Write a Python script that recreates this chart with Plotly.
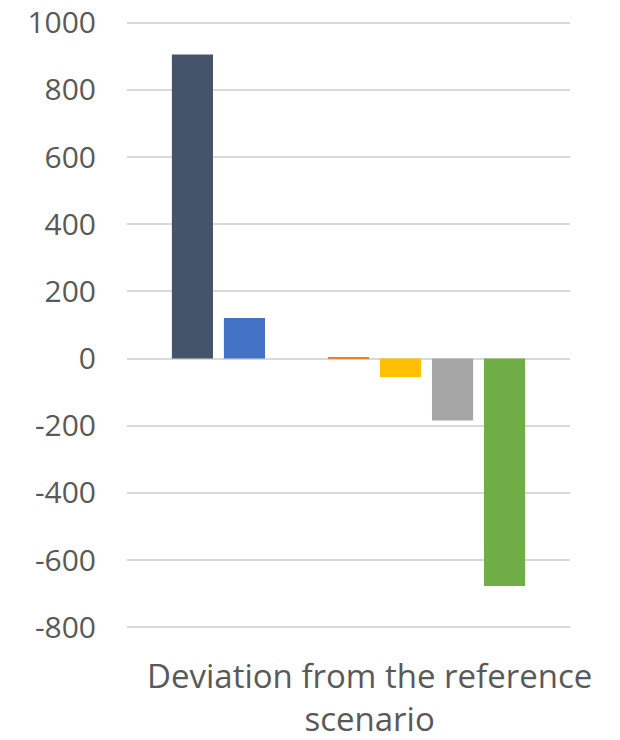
import plotly.graph_objects as go

category = ["Deviation from the reference scenario"]
series_names = ["Series 1", "Series 2", "Series 3", "Series 4", "Series 5", "Series 6", "Series 7"]
series_values = [905, 121, None, 5, -55, -184, -677]
series_colors = ["#44546A", "#4472C4", "#5B9BD5", "#ED7D31", "#FFC000", "#A5A5A5", "#70AD47"]
y_ticks = [-800, -600, -400, -200, 0, 200, 400, 600, 800, 1000]

fig = go.Figure()
for name, val, col in zip(series_names, series_values, series_colors):
    fig.add_trace(go.Bar(x=category, y=[val], name=name, marker=dict(color=col, line=dict(width=0))))

FONT = "Open Sans"
fig.update_layout(
    width=620, height=740,
    margin=dict(l=127, r=50, t=21, b=111, autoexpand=False),
    paper_bgcolor="white", plot_bgcolor="white",
    barmode="group", bargap=0.178, bargroupgap=0.21,
    showlegend=False,
    font=dict(family=FONT, color="#595959"),
    xaxis=dict(showticklabels=False, showgrid=False, zeroline=False, showline=False, ticks=""),
    yaxis=dict(range=[-805, 1005], tickvals=y_ticks, ticktext=[str(v) for v in y_ticks],
               automargin=False,
               showgrid=True, gridcolor="#D9D9D9", gridwidth=2,
               zeroline=True, zerolinecolor="#D9D9D9", zerolinewidth=2,
               showline=False, ticks="", ticklabelstandoff=30,
               tickfont=dict(family=FONT, size=30, color="#595959")),
)
fig.add_annotation(
    text="Deviation from the reference<br>scenario",
    xref="paper", yref="paper", x=(369 - 127) / 443, y=0, yshift=-22,
    xanchor="center", yanchor="top", showarrow=False,
    font=dict(family=FONT, size=33, color="#595959"),
)
fig.write_html("out.html")
